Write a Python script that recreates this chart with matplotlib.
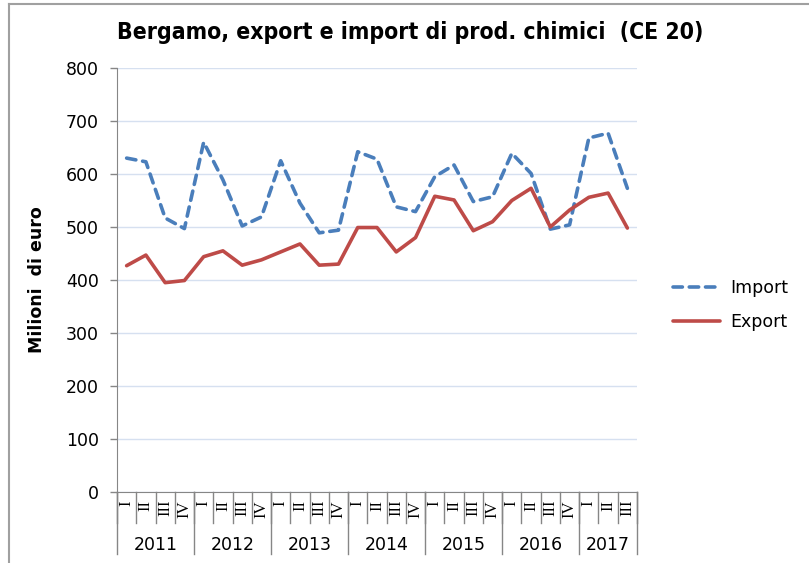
import numpy as np
import matplotlib.pyplot as plt
from matplotlib.lines import Line2D

anni = ["2011", "2012", "2013", "2014", "2015", "2016", "2017"]
trimestri = ["I", "II", "III", "IV"] * 6 + ["I", "II", "III"]

importazioni = [630, 623, 517, 497, 660, 589, 502, 519, 625, 545, 489, 494,
                642, 628, 538, 529, 595, 617, 548, 557, 639, 601, 496, 504,
                668, 677, 573]
esportazioni = [427, 447, 395, 399, 444, 455, 428, 438, 453, 468, 428, 430,
                499, 499, 453, 480, 558, 551, 493, 510, 550, 573, 500, 532,
                556, 564, 498]

grigio = "#868686"

fig = plt.figure(figsize=(8.09, 5.63), dpi=100)
ax = fig.add_axes([117 / 809, 1 - 492 / 563, 520 / 809, 424 / 563])

x = np.arange(len(trimestri))
ax.plot(x, importazioni, color="#4a7ebb", lw=2.6, dashes=(2.6, 1.9),
        dash_capstyle="round", label="Import")
ax.plot(x, esportazioni, color="#be4b48", lw=2.6, solid_capstyle="round",
        label="Export")

ax.set_xlim(-0.5, len(trimestri) - 0.5)
ax.set_ylim(0, 800)
ax.set_yticks(range(0, 801, 100))
ax.tick_params(axis="y", length=5, width=1, color=grigio, labelsize=12.5, pad=8)
ax.set_xticks([])
ax.grid(axis="y", color="#d6e0f0", lw=1)
ax.set_axisbelow(True)
for s in ["top", "right"]:
    ax.spines[s].set_visible(False)
ax.spines["left"].set_color(grigio)
ax.spines["bottom"].set_color(grigio)

# etichette dei trimestri e degli anni sotto l'asse
trans = ax.get_xaxis_transform()
h_trim = -31 / 424
h_anno = -62 / 424
for i, t in enumerate(trimestri):
    ax.text(i, -8 / 424, t, transform=trans, rotation=90, ha="center", va="top",
            fontsize=12, family="Liberation Serif")
for k in range(len(trimestri) + 1):
    ax.add_line(Line2D([k - 0.5, k - 0.5], [0, h_trim], transform=trans,
                       color=grigio, lw=1, clip_on=False))
confini = [-0.5]
for j, a in enumerate(anni):
    n = trimestri[4 * j:4 * j + 4]
    inizio = confini[-1]
    fine = inizio + len(n)
    confini.append(fine)
    ax.text((inizio + fine) / 2, -53 / 424, a, transform=trans, ha="center",
            va="center", fontsize=12.5)
for c in confini:
    ax.add_line(Line2D([c, c], [0, h_anno], transform=trans, color=grigio,
                       lw=1, clip_on=False))

ax.set_ylabel("Milioni  di euro", fontsize=12.5, fontweight="bold")
ax.yaxis.set_label_coords(-71 / 520, 0.5)

fig.text(410 / 809, 1 - 33 / 563, "Bergamo, export e import di prod. chimici  (CE 20)",
         ha="center", va="center", fontsize=16.5, fontweight="bold",
         fontstretch="condensed")

ax.legend(loc="center left", bbox_to_anchor=(540 / 520, 187 / 424), frameon=False,
          fontsize=12.5, handlelength=2.7, labelspacing=0.9, handletextpad=0.6)

# cornice grigia in alto e a sinistra
fig.add_artist(Line2D([9 / 809, 9 / 809], [0, 1 - 4 / 563], transform=fig.transFigure,
                      color="#a0a0a0", lw=1.5))
fig.add_artist(Line2D([9 / 809, 1], [1 - 4 / 563, 1 - 4 / 563], transform=fig.transFigure,
                      color="#a0a0a0", lw=1.5))

fig.savefig("out.png", dpi=100)
